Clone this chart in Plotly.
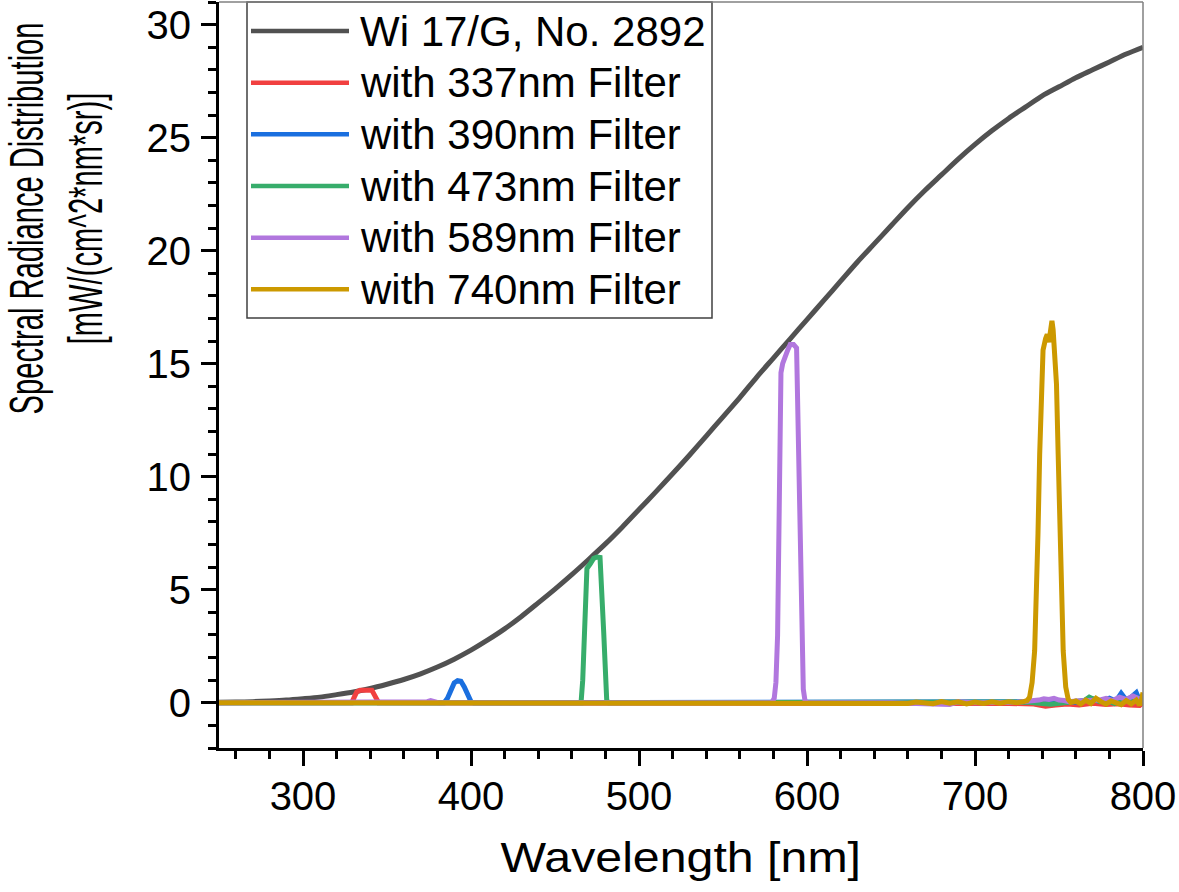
import plotly.graph_objects as go

# ---------------- data ----------------
lamp_wl = [250, 260, 270, 280, 290, 300, 310, 320, 330, 340, 350, 360, 370, 380, 390,
           400, 410, 420, 430, 440, 450, 460, 470, 480, 490, 500, 510, 520, 530, 540,
           550, 560, 570, 580, 590, 600, 610, 620, 630, 640, 650, 660, 670, 680, 690,
           700, 710, 720, 730, 740, 750, 760, 770, 780, 790, 800]
lamp_val = [0.02, 0.03, 0.05, 0.08, 0.12, 0.18, 0.25, 0.36, 0.48, 0.63, 0.82, 1.03, 1.28, 1.58, 1.93,
            2.33, 2.78, 3.27, 3.82, 4.42, 5.03, 5.67, 6.34, 7.03, 7.77, 8.55, 9.33, 10.13, 10.95, 11.8,
            12.65, 13.5, 14.4, 15.25, 16.1, 16.95, 17.8, 18.65, 19.5, 20.3, 21.1, 21.9, 22.65, 23.35, 24.05,
            24.7, 25.3, 25.85, 26.35, 26.85, 27.25, 27.65, 28.0, 28.35, 28.7, 29.0]

f337_wl = [250, 300, 326, 329, 330.5, 332, 334, 338, 341, 342.5, 344, 345, 348, 400, 500, 600, 650,
           700, 720, 735, 742, 748, 755, 762, 770, 778, 785, 792, 798, 800]
f337_val = [0, 0, 0, 0, 0.25, 0.48, 0.55, 0.58, 0.55, 0.35, 0.05, 0, 0, 0, 0, 0, 0,
            0.02, -0.03, -0.05, -0.15, -0.1, -0.05, -0.1, -0.02, -0.08, -0.04, -0.1, -0.12, 0]

f390_wl = [250, 380, 384, 386, 388, 390, 392, 394, 396, 398, 400, 401.5, 403, 500, 600, 700,
           740, 750, 760, 765, 770, 775, 780, 784, 787, 790, 793, 796, 798, 800]
f390_val = [0, 0, 0, 0.2, 0.6, 0.88, 0.98, 0.95, 0.7, 0.3, 0.05, 0, 0, 0, 0, 0.02,
            0.05, 0.08, 0.02, 0.1, 0.18, 0.05, 0.2, 0.08, 0.42, 0.12, 0.25, 0.45, 0.1, 0.2]

f473_wl = [250, 400, 463, 465.5, 466.5, 469, 471, 473, 475, 476.8, 479, 480.8, 482, 484, 550, 650,
           700, 730, 745, 760, 765, 768, 771, 774, 778, 783, 788, 792, 797, 800]
f473_val = [0, 0, 0, 0, 1.0, 5.94, 6.15, 6.39, 6.45, 6.43, 3.1, 0.1, 0, 0, 0, 0,
            0.02, 0.03, -0.06, 0.05, 0.1, 0.25, 0.15, 0.05, 0.12, -0.03, 0.15, 0.05, 0.2, 0.1]

f589_wl = [250, 370, 374, 376, 378, 381, 450, 570, 579, 580.5, 581.5, 582.5, 583.5, 584.5, 585.5,
           587, 588.5, 590, 592, 593.8, 595, 596, 596.8, 597.8, 598.8, 600, 650, 685, 690, 700,
           725, 733, 738, 741, 744, 747, 750, 753, 756, 760, 765, 770, 774, 778, 782, 786, 790,
           794, 797, 800]
f589_val = [0, 0, 0.05, 0.1, 0.08, 0, 0, 0, 0, 0.2, 0.9, 3.0, 9.0, 14.6, 15.0,
            15.35, 15.6, 15.85, 15.85, 15.7, 10.3, 5.8, 2.2, 0.6, 0.1, 0, 0, -0.08, 0.05, 0,
            0.02, 0.05, 0.12, 0.18, 0.15, 0.2, 0.12, 0.1, 0.05, 0.08, 0.1, 0.15, 0.12, 0.2, 0.1, 0.25, 0.15,
            0.3, 0.2, 0.1]

f740_wl = [250, 500, 650, 655, 660, 665, 670, 675, 680, 685, 690, 695, 700, 705, 710, 715, 720, 725,
           729, 731, 732.5, 734, 735.5, 736.5, 737.5, 738.5, 739.5, 740.5, 742, 743, 744, 745, 745.8,
           746.5, 747.5, 748.5, 749.5, 750.5, 751.5, 752.5, 754, 755.5, 757, 760, 763, 766, 769, 772,
           775, 778, 781, 784, 787, 790, 793, 796, 798, 799, 800]
f740_val = [0, 0, 0, 0.02, -0.03, 0.03, 0, -0.04, 0.05, -0.02, 0.04, -0.05, 0.03, -0.03, 0.04, -0.02, 0.05, 0,
            0.05, 0.1, 0.25, 0.9, 2.3, 4.5, 7.5, 11.0, 14.1, 15.6, 16.1, 16.3, 15.95, 16.7, 16.9,
            16.5, 15.5, 14.1, 11.0, 7.5, 4.5, 2.3, 0.7, 0.15, 0.02, 0.08, -0.05, 0.12, -0.03, 0.2,
            0.05, -0.06, 0.08, 0.02, -0.08, 0.1, -0.05, 0.12, -0.1, 0.1, 0.45]

series_names = ["Wi 17/G, No. 2892", "with 337nm Filter", "with 390nm Filter",
                "with 473nm Filter", "with 589nm Filter", "with 740nm Filter"]
series_colors = ["#515151", "#F14040", "#1A6FDF", "#37AD6B", "#B177DE", "#CC9900"]
series_x = [lamp_wl, f337_wl, f390_wl, f473_wl, f589_wl, f740_wl]
series_y = [lamp_val, f337_val, f390_val, f473_val, f589_val, f740_val]

x_title = "Wavelength [nm]"
y_title_lines = ["Spectral Radiance Distribution", "[mW/(cm^2*nm*sr)]"]

# ---------------- layout geometry ----------------
W, H = 1179, 892
PL, PR, PT, PB = 219, 1143, 2, 748
FONT = "Liberation Sans, Arial, sans-serif"


def px_x(p):
    return (p - PL) / (PR - PL)


def px_y(p):
    return (PB - p) / (PB - PT)


fig = go.Figure()
for i, (name, col, xs, ys) in enumerate(zip(series_names, series_colors, series_x, series_y)):
    fig.add_trace(go.Scatter(
        x=xs, y=ys, mode="lines", name=name,
        line=dict(color=col, width=5, shape="spline" if i == 0 else "linear", smoothing=0.8),
        showlegend=False,
    ))

axis_common = dict(
    showline=True, linecolor="black", linewidth=3, mirror=False,
    ticks="outside", ticklen=15, tickwidth=3, tickcolor="black",
    showgrid=False, zeroline=False,
    tickfont=dict(family=FONT, size=40, color="black"),
)
fig.update_xaxes(range=[250, 800], tick0=0, dtick=100, ticklabelstandoff=-4,
                 minor=dict(dtick=20, tick0=0, ticks="outside", ticklen=8, tickwidth=3, tickcolor="black"),
                 **axis_common)
fig.update_yaxes(range=[-2, 31], tick0=0, dtick=5, ticklabelstandoff=2,
                 minor=dict(dtick=1, tick0=0, ticks="outside", ticklen=8, tickwidth=3, tickcolor="black"),
                 **axis_common)

shapes = [
    dict(type="line", xref="paper", yref="paper", x0=0, x1=1, y0=1, y1=1,
         line=dict(color="#808080", width=1.5), layer="above"),
    dict(type="line", xref="paper", yref="paper", x0=1, x1=1, y0=0, y1=1,
         line=dict(color="#808080", width=1.5), layer="above"),
    # legend box
    dict(type="rect", xref="paper", yref="paper",
         x0=px_x(247), x1=px_x(712), y0=px_y(318), y1=px_y(2),
         line=dict(color="#404040", width=1.5), fillcolor="white", layer="below"),
]
annotations = []
row_y = [31, 82.7, 134.3, 186, 237.7, 289.3]
for name, col, ry in zip(series_names, series_colors, row_y):
    shapes.append(dict(type="line", xref="paper", yref="paper",
                       x0=px_x(251), x1=px_x(349), y0=px_y(ry), y1=px_y(ry),
                       line=dict(color=col, width=4.5), layer="above"))
    annotations.append(dict(xref="paper", yref="paper", x=px_x(358), y=px_y(ry),
                            xanchor="left", yanchor="middle", text=name, showarrow=False,
                            font=dict(family=FONT, size=42, color="black")))

# axis titles
annotations.append(dict(xref="paper", yref="paper", x=px_x(681), y=px_y(858),
                        xanchor="center", yanchor="middle", text=x_title, showarrow=False,
                        font=dict(family=FONT, size=42, color="black")))
for txt, cx in zip(y_title_lines, [26, 85]):
    annotations.append(dict(xref="paper", yref="paper", x=px_x(cx), y=px_y(219),
                            xanchor="center", yanchor="middle", text=txt, showarrow=False,
                            textangle=-90, font=dict(family=FONT, size=49, color="black")))

fig.update_layout(
    width=W, height=H,
    margin=dict(l=PL, r=W - PR, t=PT, b=H - PB, pad=0),
    paper_bgcolor="white", plot_bgcolor="white",
    shapes=shapes, annotations=annotations, showlegend=False,
)

post = """
document.body.style.margin = '0';
document.body.style.overflow = 'hidden';
var gd = document.getElementById('{plot_id}');
var specs = {'Spectral Radiance Distribution':[1,0.595], '[mW/(cm^2*nm*sr)]':[1,0.595], 'Wavelength [nm]':[1.15,1]};
gd.querySelectorAll('g.annotation').forEach(function(a){
  var t = a.querySelector('text'); if(!t) return;
  var s = specs[t.textContent]; if(!s) return;
  var b = a.getBBox(); var cx=b.x+b.width/2, cy=b.y+b.height/2;
  a.setAttribute('transform','translate('+cx+','+cy+') scale('+s[0]+','+s[1]+') translate('+(-cx)+','+(-cy)+')');
});
"""
fig.write_html("out.html", post_script=post, config={"displayModeBar": False})
